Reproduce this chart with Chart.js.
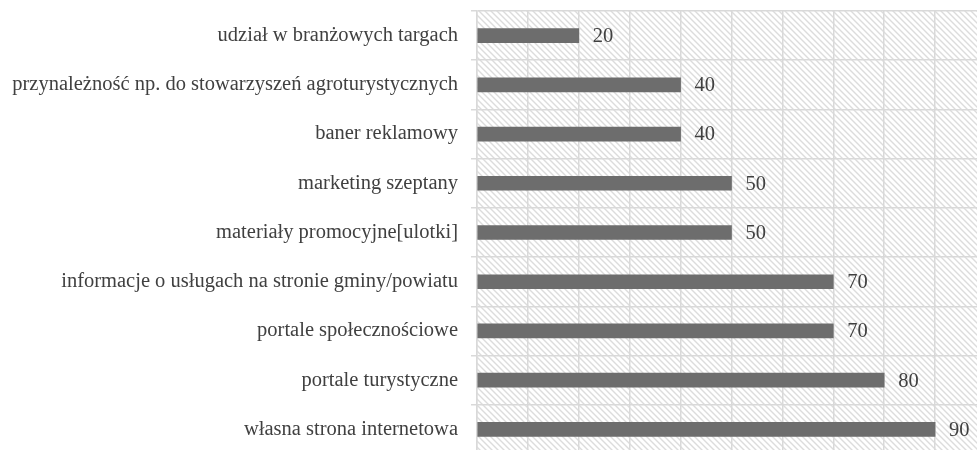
<!DOCTYPE html>
<html>
<head>
<meta charset="utf-8">
<script src="https://cdn.jsdelivr.net/npm/chart.js@4"></script>
<style>
  html, body { margin: 0; padding: 0; background: #fff; overflow: hidden; }
  #wrap { width: 986px; height: 455px; }
</style>
</head>
<body>
<div id="wrap"><canvas id="chart" width="986" height="455"></canvas></div>
<script>
var labels = [
    'udział w branżowych targach',
    'przynależność np. do stowarzyszeń agroturystycznych',
    'baner reklamowy',
    'marketing szeptany',
    'materiały promocyjne[ulotki]',
    'informacje o usługach na stronie gminy/powiatu',
    'portale społecznościowe',
    'portale turystyczne',
    'własna strona internetowa'
];
var values = [20, 40, 40, 50, 50, 70, 70, 80, 90];

var makeHatch = function(ctx) {
    var c = document.createElement('canvas');
    c.width = 6; c.height = 6;
    var p = c.getContext('2d');
    p.fillStyle = '#ffffff';
    p.fillRect(0, 0, 6, 6);
    p.strokeStyle = '#dcdcdc';
    p.lineWidth = 1.4;
    p.beginPath();
    p.moveTo(-1, -1); p.lineTo(7, 7);
    p.moveTo(-4, 2); p.lineTo(4, 10);
    p.moveTo(2, -4); p.lineTo(10, 4);
    p.stroke();
    return ctx.createPattern(c, 'repeat');
};

var hatchPlugin = {
    id: 'hatch',
    beforeDraw: function(chart) {
        var a = chart.chartArea;
        var ctx = chart.ctx;
        ctx.save();
        ctx.fillStyle = makeHatch(ctx);
        ctx.fillRect(a.left, a.top, a.right - a.left, a.bottom - a.top);
        ctx.restore();
    }
};

var fontFamily = '"Liberation Serif", "Times New Roman", serif';

var valueLabels = {
    id: 'valueLabels',
    afterDatasetsDraw: function(chart) {
        var ctx = chart.ctx;
        var meta = chart.getDatasetMeta(0);
        ctx.save();
        ctx.font = '20.5px ' + fontFamily;
        ctx.fillStyle = '#404040';
        ctx.textAlign = 'left';
        ctx.textBaseline = 'middle';
        meta.data.forEach(function(bar, i) {
            ctx.fillText(values[i], bar.x + 14, bar.y + 1);
        });
        ctx.restore();
    }
};

var ctx = document.getElementById('chart').getContext('2d');
new Chart(ctx, {
    type: 'bar',
    data: {
        labels: labels,
        datasets: [{
            data: values,
            backgroundColor: '#6d6d6d',
            barThickness: 14
        }]
    },
    options: {
        indexAxis: 'y',
        responsive: false,
        animation: false,
        layout: { padding: { top: 11, bottom: 1, left: 0, right: 0 } },
        plugins: { legend: { display: false }, tooltip: { enabled: false } },
        scales: {
            x: {
                min: 0,
                max: 100,
                ticks: { display: false, stepSize: 10 },
                grid: { color: '#d9d9d9', lineWidth: 1.5, drawTicks: false },
                border: { display: false },
                afterFit: function(s) { s.height = 0; }
            },
            y: {
                grid: { color: '#d9d9d9', lineWidth: 1.5, offset: true, tickLength: 6 },
                border: { color: '#d9d9d9', width: 1.5 },
                ticks: {
                    color: '#404040',
                    padding: 13,
                    font: { family: fontFamily, size: 20.5 }
                },
                afterFit: function(s) {
                    s.width = 477;
                    s.paddingTop = 0;
                    s.paddingBottom = 0;
                }
            }
        }
    },
    plugins: [hatchPlugin, valueLabels]
});
</script>
</body>
</html>
